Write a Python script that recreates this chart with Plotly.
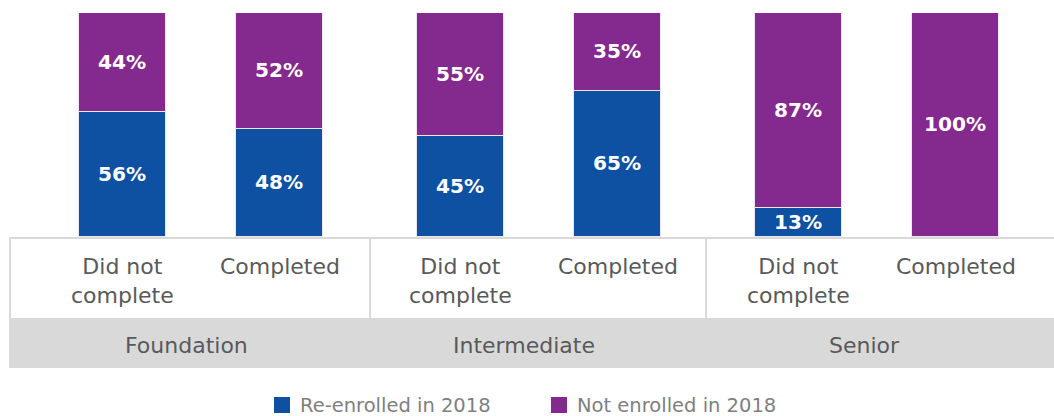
import plotly.graph_objects as go

groups = ["Foundation", "Intermediate", "Senior"]
subcats = ["Did not<br>complete", "Completed"]
reenrolled = [56, 48, 45, 65, 13, 0]
not_enrolled = [44, 52, 55, 35, 87, 100]
series_names = ["Re-enrolled in 2018", "Not enrolled in 2018"]
colors = ["#0E50A2", "#842A8E"]

W, H = 1054, 416
TOP, BOT = 13, 237
# layout geometry (pixels along the x axis, which spans the full width)
BASE, GSTEP, SSTEP = 122.5, 338, 157
xpos = [BASE + g * GSTEP + s * SSTEP for g in range(len(groups)) for s in range(len(subcats))]

def py(p):
    return (BOT - p) / (BOT - TOP)

FONT = "DejaVu Sans"
TXT = "#595959"
fig = go.Figure()
for name, vals, col in zip(series_names, [reenrolled, not_enrolled], colors):
    fig.add_trace(go.Bar(
        x=xpos, y=vals, name=name, width=87,
        marker=dict(color=col, line=dict(color="#ECE6F0", width=1)),
        text=[f"{v}%" if v > 0 else "" for v in vals],
        textposition="inside", insidetextanchor="middle",
        textfont=dict(color="white", size=21, family=FONT, weight="bold"),
        textangle=0, hoverinfo="skip", showlegend=False,
    ))

shapes = []
line_col = "#D9D9D9"
shapes.append(dict(type="rect", xref="x", yref="paper", x0=9, x1=W, y0=py(368), y1=py(318),
                   fillcolor="#D9D9D9", line=dict(width=0), layer="below"))
shapes.append(dict(type="line", xref="x", yref="paper", x0=9, x1=W, y0=py(238), y1=py(238),
                   line=dict(color=line_col, width=2)))
for xv in [10, 370, 706]:
    shapes.append(dict(type="line", xref="x", yref="paper", x0=xv, x1=xv, y0=py(238), y1=py(318),
                       line=dict(color=line_col, width=2)))

annotations = []
for i, xp in enumerate(xpos):
    annotations.append(dict(x=xp, y=py(252), xref="x", yref="paper", text=subcats[i % 2],
                            showarrow=False, yanchor="top", xanchor="center", align="center",
                            font=dict(size=22, color=TXT, family=FONT)))
group_x = [186, 524, 864]
for gx, gname in zip(group_x, groups):
    annotations.append(dict(x=gx, y=py(345), xref="x", yref="paper", text=gname,
                            showarrow=False, yanchor="middle", xanchor="center",
                            font=dict(size=22, color=TXT, family=FONT)))

# legend drawn manually
leg_sq_x = [274, 551]
for lx, name, col in zip(leg_sq_x, series_names, colors):
    shapes.append(dict(type="rect", xref="x", yref="paper", x0=lx, x1=lx + 16,
                       y0=py(413), y1=py(397), fillcolor=col, line=dict(width=0)))
    annotations.append(dict(x=lx + 24, y=py(405), xref="x", yref="paper", text=name,
                            showarrow=False, xanchor="left", yanchor="middle",
                            font=dict(size=19.5, color="#7F7F7F", family=FONT)))

fig.update_layout(
    width=W, height=H,
    margin=dict(l=0, r=0, t=TOP, b=H - BOT),
    barmode="stack", bargap=0,
    plot_bgcolor="white", paper_bgcolor="white",
    xaxis=dict(range=[0, W], visible=False, fixedrange=True),
    yaxis=dict(range=[0, 100], visible=False, fixedrange=True),
    shapes=shapes, annotations=annotations,
    showlegend=False,
    uniformtext=dict(minsize=10, mode="show"),
)

fig.write_html("out.html", config={"displayModeBar": False},
               post_script="document.body.style.margin='0';")
